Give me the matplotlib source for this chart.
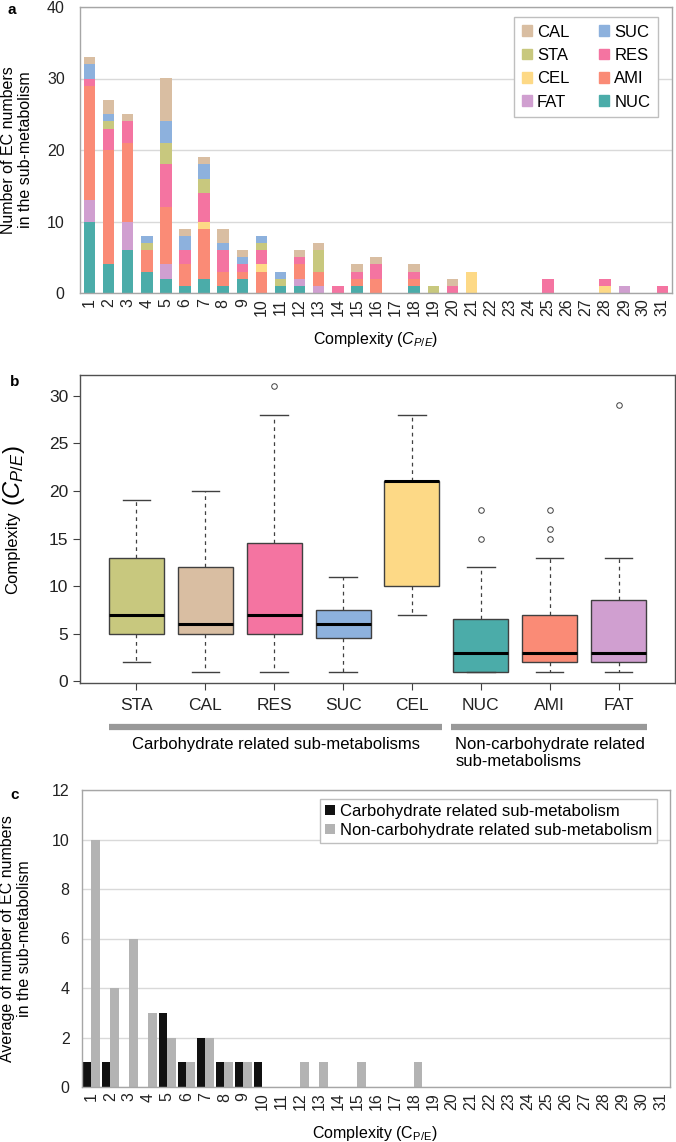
import numpy as np
import matplotlib
matplotlib.use("Agg")
import matplotlib.pyplot as plt
from matplotlib.patches import Patch
from matplotlib.transforms import blended_transform_factory

plt.rcParams['font.family'] = ['Liberation Sans', 'DejaVu Sans']
plt.rcParams['mathtext.fontset'] = 'custom'
plt.rcParams['mathtext.rm'] = 'Liberation Sans'
plt.rcParams['mathtext.it'] = 'Liberation Sans:italic'

# Panel a: number of EC numbers per complexity, stacked by sub-metabolism
complexity = list(range(1, 32))
nuc = [10, 4, 6, 3, 2, 1, 2, 1, 2, 0, 1, 1, 0, 0, 1, 0, 0, 1, 0, 0, 0, 0, 0, 0, 0, 0, 0, 0, 0, 0, 0]
fat = [3, 0, 4, 0, 2, 0, 0, 0, 0, 0, 0, 1, 1, 0, 0, 0, 0, 0, 0, 0, 0, 0, 0, 0, 0, 0, 0, 0, 1, 0, 0]
ami = [16, 16, 11, 3, 8, 3, 7, 2, 1, 3, 0, 2, 2, 0, 1, 2, 0, 1, 0, 0, 0, 0, 0, 0, 0, 0, 0, 0, 0, 0, 0]
cel = [0, 0, 0, 0, 0, 0, 1, 0, 0, 1, 0, 0, 0, 0, 0, 0, 0, 0, 0, 0, 3, 0, 0, 0, 0, 0, 0, 1, 0, 0, 0]
res = [1, 3, 3, 0, 6, 2, 4, 3, 1, 2, 0, 1, 0, 1, 1, 2, 0, 1, 0, 1, 0, 0, 0, 0, 2, 0, 0, 1, 0, 0, 1]
sta = [0, 1, 0, 1, 3, 0, 2, 0, 0, 1, 1, 0, 3, 0, 0, 0, 0, 0, 1, 0, 0, 0, 0, 0, 0, 0, 0, 0, 0, 0, 0]
suc = [2, 1, 0, 1, 3, 2, 2, 1, 1, 1, 1, 0, 0, 0, 0, 0, 0, 0, 0, 0, 0, 0, 0, 0, 0, 0, 0, 0, 0, 0, 0]
cal = [1, 2, 1, 0, 6, 1, 1, 2, 1, 0, 0, 1, 1, 0, 1, 1, 0, 1, 0, 1, 0, 0, 0, 0, 0, 0, 0, 0, 0, 0, 0]

colors = {'NUC': '#4BACA9', 'FAT': '#D09FD0', 'AMI': '#FA8B76', 'CEL': '#FDD986',
          'RES': '#F474A1', 'STA': '#C8C87E', 'SUC': '#8DB1DD', 'CAL': '#D9BEA2'}

# Panel b: box statistics per sub-metabolism
box_names = ['STA', 'CAL', 'RES', 'SUC', 'CEL', 'NUC', 'AMI', 'FAT']
box_med = [7, 6, 7, 6, 21, 3, 3, 3]
box_q1 = [5, 5, 5, 4.5, 10, 1, 2, 2]
box_q3 = [13, 12, 14.5, 7.5, 21, 6.5, 7, 8.5]
box_lo = [2, 1, 1, 1, 7, 1, 1, 1]
box_hi = [19, 20, 28, 11, 28, 12, 13, 13]
box_out = [[], [], [31], [], [], [15, 18], [15, 16, 18], [29]]

# Panel c: averages for carbohydrate / non-carbohydrate groups
carb = [1, 1, 0, 0, 3, 1, 2, 1, 1, 1, 0, 0, 0, 0, 0, 0, 0, 0, 0, 0, 0, 0, 0, 0, 0, 0, 0, 0, 0, 0, 0]
noncarb = [10, 4, 6, 3, 2, 1, 2, 1, 1, 0, 0, 1, 1, 0, 1, 0, 0, 1, 0, 0, 0, 0, 0, 0, 0, 0, 0, 0, 0, 0, 0]

W, H = 676, 1142
fig = plt.figure(figsize=(W / 100, H / 100), dpi=100)


def px_axes(l, t, r, b):
    return fig.add_axes([l / W, (H - b) / H, (r - l) / W, (b - t) / H])


def excel_style(ax, ymax, ystep):
    ax.set_ylim(0, ymax)
    ax.set_yticks(np.arange(0, ymax + 1, ystep))
    ax.set_xlim(0.5, 31.5)
    ax.set_xticks(complexity)
    ax.set_xticklabels([str(c) for c in complexity], rotation=90)
    ax.tick_params(axis='both', length=0, labelsize=11.5, colors='#222222')
    ax.tick_params(axis='x', pad=4)
    ax.tick_params(axis='y', pad=11)
    ax.grid(axis='y', color='#d9d9d9', lw=1)
    ax.set_axisbelow(True)
    for s in ax.spines.values():
        s.set_color('#a6a6a6')
        s.set_linewidth(1)


# ---- a ----
ax_a = px_axes(80, 7, 672, 293)
order = [('NUC', nuc), ('FAT', fat), ('AMI', ami), ('CEL', cel),
         ('RES', res), ('STA', sta), ('SUC', suc), ('CAL', cal)]
bottom = np.zeros(len(complexity))
for name, vals in order:
    ax_a.bar(complexity, vals, width=0.6, bottom=bottom, color=colors[name], label=name)
    bottom += np.array(vals)
excel_style(ax_a, 40, 10)
ax_a.set_ylabel('Number of EC numbers\nin the sub-metabolism', fontsize=11.5, labelpad=10)
ax_a.set_xlabel('Complexity ($C_{P/E}$)', fontsize=11.5)
ax_a.xaxis.set_label_coords(0.5, -0.13)
leg_names = ['CAL', 'STA', 'CEL', 'FAT', 'SUC', 'RES', 'AMI', 'NUC']
handles = [Patch(color=colors[n], label=n) for n in leg_names]
ax_a.legend(handles=handles, ncol=2, loc='upper right', bbox_to_anchor=(0.976, 0.965),
            borderaxespad=0, fontsize=12, frameon=True, fancybox=False, edgecolor='#bfbfbf',
            framealpha=1, handlelength=0.6, handleheight=0.6, handletextpad=0.3,
            columnspacing=1.8, labelspacing=0.5, borderpad=0.45)

# ---- b ----
ax_b = px_axes(80, 375, 675, 683)
stats = []
for i, n in enumerate(box_names):
    stats.append({'med': box_med[i], 'q1': box_q1[i], 'q3': box_q3[i],
                  'whislo': box_lo[i], 'whishi': box_hi[i], 'fliers': box_out[i], 'label': n})
pos = np.arange(1, len(box_names) + 1)
bp = ax_b.bxp(stats, positions=pos, widths=0.8, capwidths=[0.4] * len(pos), patch_artist=True,
              boxprops=dict(edgecolor='#404040', lw=1.0),
              whiskerprops=dict(color='#404040', lw=0.9, ls=(0, (3, 3))),
              capprops=dict(color='#404040', lw=1.0),
              medianprops=dict(color='black', lw=2.2),
              flierprops=dict(marker='o', markersize=4, markerfacecolor='none',
                              markeredgecolor='#404040', markeredgewidth=0.7))
for patch, n in zip(bp['boxes'], box_names):
    patch.set_facecolor(colors[n])
ax_b.set_xlim(0.18, 8.82)
ax_b.set_ylim(-0.2, 32.2)
ax_b.set_yticks([0, 5, 10, 15, 20, 25, 30])
ax_b.set_xticks(pos)
ax_b.set_xticklabels(box_names)
ax_b.tick_params(axis='both', length=5, width=0.8, color='#404040', labelsize=12.5, colors='#222222')
ax_b.tick_params(axis='x', pad=6)
for s in ax_b.spines.values():
    s.set_color('#505050')
    s.set_linewidth(1)
tr = blended_transform_factory(ax_b.transData, ax_b.transAxes)
ax_b.plot([0.6, 5.44], [-0.143, -0.143], transform=tr, color='#999999', lw=4.5, clip_on=False,
          solid_capstyle='butt')
ax_b.plot([5.57, 8.41], [-0.143, -0.143], transform=tr, color='#999999', lw=4.5, clip_on=False,
          solid_capstyle='butt')
ax_b.text(3.03, -0.2, 'Carbohydrate related sub-metabolisms', transform=tr, ha='center',
          va='center', fontsize=12)
ax_b.text(5.63, -0.175, 'Non-carbohydrate related\nsub-metabolisms', transform=tr, ha='left',
          va='top', fontsize=12, linespacing=1.2)
fig.text(13 / W, (H - 553) / H, 'Complexity', rotation=90, ha='center', va='center', fontsize=12)
fig.text(14 / W, (H - 476) / H, r'$(C_{P/E})$', rotation=90, ha='center', va='center', fontsize=17)

# ---- c ----
ax_c = px_axes(82, 790, 670, 1087)
xc = np.array(complexity)
ax_c.bar(xc - 0.225, carb, width=0.45, color='#111111', label='Carbohydrate related sub-metabolism')
ax_c.bar(xc + 0.225, noncarb, width=0.45, color='#b3b3b3', label='Non-carbohydrate related sub-metabolism')
excel_style(ax_c, 12, 2)
ax_c.tick_params(axis='y', pad=9)
ax_c.set_ylabel('Average of number of EC numbers\nin the sub-metabolism', fontsize=11.5, labelpad=14)
ax_c.set_xlabel(r'Complexity (C$_{\mathregular{P/E}}$)', fontsize=11.5)
ax_c.xaxis.set_label_coords(0.498, -0.125)
ax_c.legend(loc='upper right', bbox_to_anchor=(0.978, 0.97), borderaxespad=0, fontsize=12,
            frameon=True, fancybox=False, edgecolor='#bfbfbf', framealpha=1, handlelength=0.6,
            handleheight=0.6, handletextpad=0.3, labelspacing=0.25, borderpad=0.3)

# panel letters
fig.text(8 / W, (H - 10) / H, 'a', fontsize=11, fontweight='bold', va='center')
fig.text(10 / W, (H - 382) / H, 'b', fontsize=11, fontweight='bold', va='center')
fig.text(10 / W, (H - 795) / H, 'c', fontsize=11, fontweight='bold', va='center')

fig.savefig('out.png', dpi=100)
